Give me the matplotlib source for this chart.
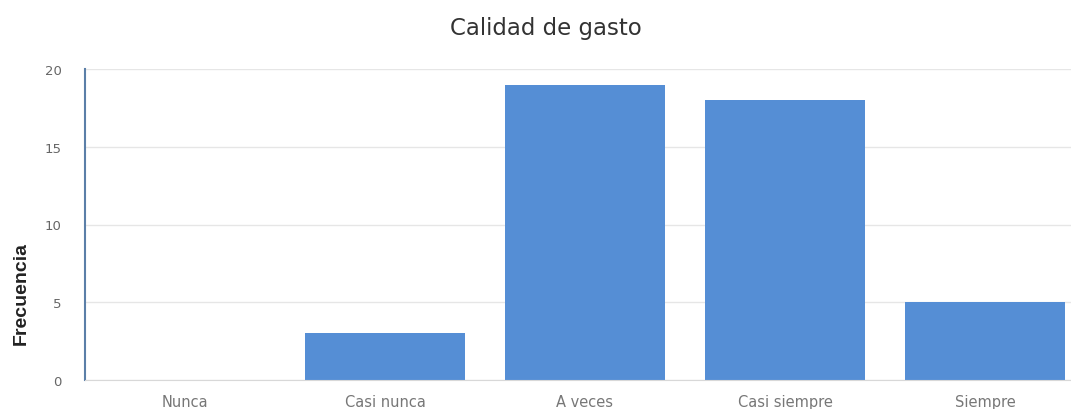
import matplotlib
matplotlib.use("Agg")
import matplotlib.pyplot as plt

categories = ["Nunca", "Casi nunca", "A veces", "Casi siempre", "Siempre"]
frecuencia = [0, 3, 19, 18, 5]
y_ticks = [0, 5, 10, 15, 20]

W, H = 1071, 410
fig = plt.figure(figsize=(W / 100, H / 100), dpi=100)
ax = fig.add_axes([85 / W, 1 - 381 / H, 1 - 85 / W, (381 - 70) / H])

x = list(range(len(categories)))
ax.bar(x, frecuencia, width=0.8, color="#558ed5", zorder=2)

ax.set_xlim(-0.5, (W - 185) / 200)
ax.set_ylim(0, 20)
ax.set_yticks(y_ticks)
ax.set_xticks(x)
ax.set_xticklabels(categories, fontsize=10.5, color="#777777")
ax.tick_params(axis="y", labelsize=9.5, labelcolor="#666666", length=0, pad=17)
ax.tick_params(axis="x", length=0, pad=10)
ax.yaxis.grid(True, color="#e6e6e6", linewidth=1, zorder=0)

for side in ("top", "right"):
    ax.spines[side].set_visible(False)
ax.spines["bottom"].set_color("#d8d8d8")
ax.spines["left"].set_color("#5b7fa8")
ax.spines["left"].set_linewidth(1.5)

fig.text(21 / W, 1 - 294 / H, "Frecuencia", rotation=90, ha="center", va="center",
         fontsize=14, fontweight="bold", family="Liberation Sans", color="#222222")
fig.text(546 / W, 1 - 29 / H, "Calidad de gasto", ha="center", va="center",
         fontsize=16.5, color="#333333")

fig.savefig("out.png", dpi=100)
